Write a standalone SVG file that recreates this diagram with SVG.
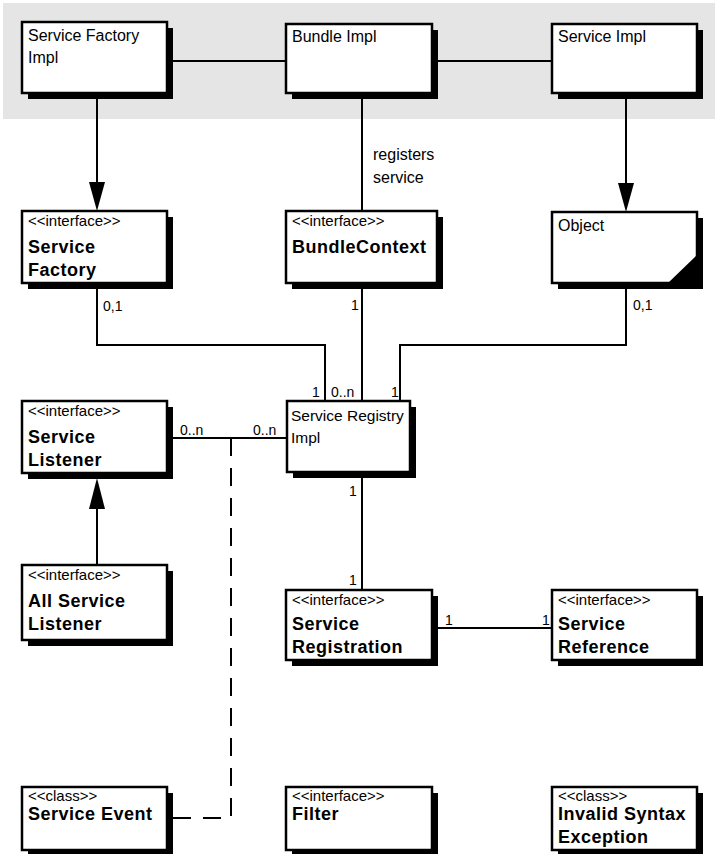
<svg xmlns="http://www.w3.org/2000/svg" width="715" height="854" viewBox="0 0 715 854">
<style>
.sh{fill:#000}
.bx{fill:#fff;stroke:#000;stroke-width:2.5}
.t{font-family:"Liberation Sans",Arial,sans-serif;font-size:16px;fill:#000}
.st{font-family:"Liberation Sans",Arial,sans-serif;font-size:15px;fill:#000}
.b{font-family:"Liberation Sans",Arial,sans-serif;font-size:18px;font-weight:bold;letter-spacing:0.5px;fill:#000}
.l{font-family:"Liberation Sans",Arial,sans-serif;font-size:14px;fill:#000}
.c{fill:none;stroke:#000;stroke-width:2}
.d{fill:none;stroke:#000;stroke-width:2;stroke-dasharray:18 12}
</style>
<rect x="3" y="3" width="712" height="116" fill="#e5e5e5"/>
<g id="connectors">
<line class="c" x1="167" y1="61" x2="286" y2="61"/>
<line class="c" x1="432" y1="61" x2="552" y2="61"/>
<line class="c" x1="97" y1="93" x2="97" y2="184"/>
<polygon points="89,182 105,182 97,211" fill="#000"/>
<line class="c" x1="362" y1="93" x2="362" y2="211"/>
<line class="c" x1="626" y1="93" x2="626" y2="184"/>
<polygon points="618,183 634,183 626,212" fill="#000"/>
<path class="c" d="M97,283 V345 H325 V401"/>
<line class="c" x1="362" y1="283" x2="362" y2="401"/>
<path class="c" d="M626,283 V345 H400 V401"/>
<line class="c" x1="167" y1="438" x2="287" y2="438"/>
<path class="d" d="M231,438 V818 H163"/>
<line class="c" x1="97" y1="565" x2="97" y2="505"/>
<polygon points="89,509 105,509 97,478" fill="#000"/>
<line class="c" x1="362" y1="472" x2="362" y2="590"/>
<line class="c" x1="432" y1="628" x2="552" y2="628"/>
<text class="t" x="373" y="160">registers</text>
<text class="t" x="373" y="183">service</text>
<text class="l" x="103" y="311">0,1</text>
<text class="l" x="351" y="310">1</text>
<text class="l" x="633" y="310">0,1</text>
<text class="l" x="312" y="397">1</text>
<text class="l" x="331" y="397">0..n</text>
<text class="l" x="391" y="397">1</text>
<text class="l" x="180" y="435">0..n</text>
<text class="l" x="253" y="435">0..n</text>
<text class="l" x="349" y="496">1</text>
<text class="l" x="349" y="585">1</text>
<text class="l" x="445" y="625">1</text>
<text class="l" x="542" y="625">1</text>
</g>
<g id="service-factory-impl">
<rect class="sh" x="28" y="28" width="145" height="71"/>
<rect class="bx" x="22" y="22" width="145" height="71"/>
<text class="t" x="28" y="41">Service Factory</text>
<text class="t" x="28" y="63">Impl</text>
</g>
<g id="bundle-impl">
<rect class="sh" x="292" y="30" width="146" height="69"/>
<rect class="bx" x="286" y="24" width="146" height="69"/>
<text class="t" x="292" y="42">Bundle Impl</text>
</g>
<g id="service-impl">
<rect class="sh" x="558" y="30" width="145" height="69"/>
<rect class="bx" x="552" y="24" width="145" height="69"/>
<text class="t" x="558" y="42">Service Impl</text>
</g>
<g id="service-factory">
<rect class="sh" x="28" y="217" width="145" height="72"/>
<rect class="bx" x="22" y="211" width="145" height="72"/>
<text class="st" x="28" y="226">&lt;&lt;interface&gt;&gt;</text>
<text class="b" x="28" y="253">Service</text>
<text class="b" x="28" y="276">Factory</text>
</g>
<g id="bundle-context">
<rect class="sh" x="292" y="217" width="151" height="72"/>
<rect class="bx" x="286" y="211" width="151" height="72"/>
<text class="st" x="292" y="226">&lt;&lt;interface&gt;&gt;</text>
<text class="b" x="292" y="253">BundleContext</text>
</g>
<g id="object">
<rect class="sh" x="558" y="218" width="145" height="71"/>
<rect class="bx" x="552" y="212" width="145" height="71"/>
<polygon points="668,283 697,283 697,255" fill="#000"/>
<text class="t" x="558" y="231">Object</text>
</g>
<g id="service-listener">
<rect class="sh" x="28" y="407" width="145" height="72"/>
<rect class="bx" x="22" y="401" width="145" height="72"/>
<text class="st" x="28" y="416">&lt;&lt;interface&gt;&gt;</text>
<text class="b" x="28" y="443">Service</text>
<text class="b" x="28" y="466">Listener</text>
</g>
<g id="service-registry-impl">
<rect class="sh" x="293" y="407" width="123" height="71"/>
<rect class="bx" x="287" y="401" width="123" height="71"/>
<text class="t" x="291" y="421" style="font-size:15.5px">Service Registry</text>
<text class="t" x="291" y="443" style="font-size:15.5px">Impl</text>
</g>
<g id="all-service-listener">
<rect class="sh" x="28" y="571" width="145" height="75"/>
<rect class="bx" x="22" y="565" width="145" height="75"/>
<text class="st" x="28" y="580">&lt;&lt;interface&gt;&gt;</text>
<text class="b" x="28" y="607">All Service</text>
<text class="b" x="28" y="630">Listener</text>
</g>
<g id="service-registration">
<rect class="sh" x="292" y="596" width="146" height="70"/>
<rect class="bx" x="286" y="590" width="146" height="70"/>
<text class="st" x="292" y="605">&lt;&lt;interface&gt;&gt;</text>
<text class="b" x="292" y="630">Service</text>
<text class="b" x="292" y="653">Registration</text>
</g>
<g id="service-reference">
<rect class="sh" x="558" y="596" width="145" height="70"/>
<rect class="bx" x="552" y="590" width="145" height="70"/>
<text class="st" x="558" y="605">&lt;&lt;interface&gt;&gt;</text>
<text class="b" x="558" y="630">Service</text>
<text class="b" x="558" y="653">Reference</text>
</g>
<g id="service-event">
<rect class="sh" x="28" y="793" width="145" height="63"/>
<rect class="bx" x="22" y="787" width="145" height="63"/>
<text class="st" x="28" y="801">&lt;&lt;class&gt;&gt;</text>
<text class="b" x="28" y="820">Service Event</text>
</g>
<g id="filter">
<rect class="sh" x="292" y="793" width="146" height="63"/>
<rect class="bx" x="286" y="787" width="146" height="63"/>
<text class="st" x="292" y="801">&lt;&lt;interface&gt;&gt;</text>
<text class="b" x="292" y="820">Filter</text>
</g>
<g id="invalid-syntax-exception">
<rect class="sh" x="558" y="793" width="145" height="63"/>
<rect class="bx" x="552" y="787" width="145" height="63"/>
<text class="st" x="558" y="801">&lt;&lt;class&gt;&gt;</text>
<text class="b" x="558" y="820">Invalid Syntax</text>
<text class="b" x="558" y="843">Exception</text>
</g>
</svg>
